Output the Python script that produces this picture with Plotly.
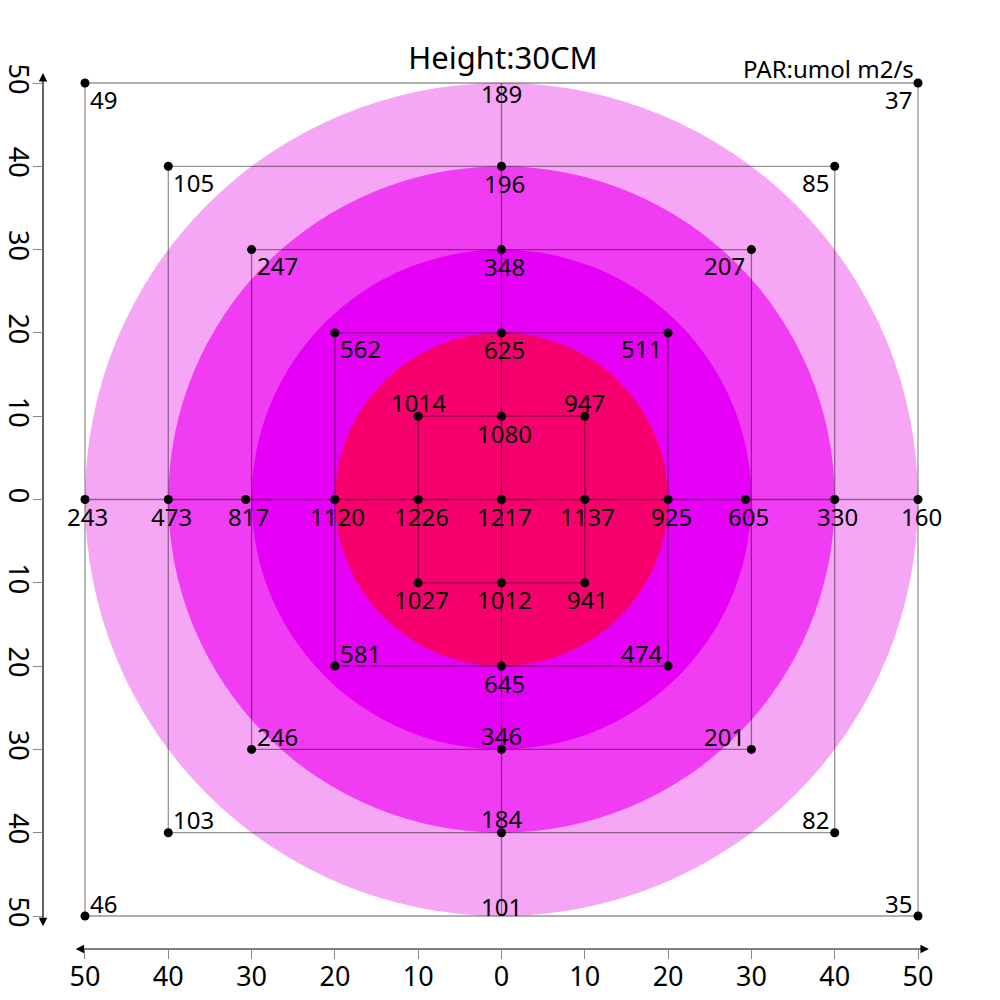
import plotly.graph_objects as go

# ---- data ----
square_half = [50, 40, 30, 20, 10]
ring_radius = [50, 40, 30, 20]
ring_color = ["#F5A6F5", "#F03CF3", "#E600F5", "#F5006C"]

point_x = [-50, 0, 50,
           -40, 0, 40,
           -30, 0, 30,
           -20, 0, 20,
           -10, 0, 10,
           -50, -40, -30.7, -20, -10, 0, 10, 20, 29.3, 40, 50,
           -10, 0, 10,
           -20, 0, 20,
           -30, 0, 30,
           -40, 0, 40,
           -50, 0, 50]
point_y = [50, 50, 50,
           40, 40, 40,
           30, 30, 30,
           20, 20, 20,
           10, 10, 10,
           0, 0, 0, 0, 0, 0, 0, 0, 0, 0, 0,
           -10, -10, -10,
           -20, -20, -20,
           -30, -30, -30,
           -40, -40, -40,
           -50, -50, -50]
par_values = [49, 189, 37,
              105, 196, 85,
              247, 348, 207,
              562, 625, 511,
              1014, 1080, 947,
              243, 473, 817, 1120, 1226, 1217, 1137, 925, 605, 330, 160,
              1027, 1012, 941,
              581, 645, 474,
              246, 346, 201,
              103, 184, 82,
              46, 101, 35]
has_dot = [True, False, True] + [True] * 35 + [True, False, True]
label_pos = (["bottom right", "bottom center", "bottom left"] * 4
             + ["top center", "bottom center", "top center"]
             + ["bottom center"] * 11
             + ["bottom center"] * 3
             + ["top right", "bottom center", "top left"]
             + ["top right", "top center", "top left"] * 3)

tick_vals = [-50, -40, -30, -20, -10, 0, 10, 20, 30, 40, 50]
tick_text = ["50", "40", "30", "20", "10", "0", "10", "20", "30", "40", "50"]

FONT = "Noto Sans"
LINE = "rgba(0,0,0,0.42)"

# label placement styles: (xanchor, xshift, yshift)
POS_STYLE = {
    "bottom right": ("left", 3, -16),
    "bottom left": ("right", -4, -16),
    "bottom center": ("center", 3, -17),
    "top center": ("center", 0, 14),
    "top right": ("left", 3, 13),
    "top left": ("right", -4, 13),
}

fig = go.Figure()

# rings
shapes = []
for r, c in zip(ring_radius, ring_color):
    shapes.append(dict(type="circle", xref="x", yref="y", x0=-r, x1=r, y0=-r, y1=r,
                       fillcolor=c, line=dict(width=0), layer="below"))

# squares
for s in square_half:
    fig.add_trace(go.Scatter(x=[-s, s, s, -s, -s], y=[s, s, -s, -s, s], mode="lines",
                             line=dict(color=LINE, width=1.3), hoverinfo="skip", showlegend=False))
# cross lines
big = square_half[0]
fig.add_trace(go.Scatter(x=[-big, big], y=[0, 0], mode="lines",
                         line=dict(color=LINE, width=1.3), hoverinfo="skip", showlegend=False))
fig.add_trace(go.Scatter(x=[0, 0], y=[-big, big], mode="lines",
                         line=dict(color=LINE, width=1.3), hoverinfo="skip", showlegend=False))

# points
fig.add_trace(go.Scatter(
    x=[x for x, d in zip(point_x, has_dot) if d],
    y=[y for y, d in zip(point_y, has_dot) if d],
    mode="markers",
    marker=dict(color="black", size=9, opacity=1, line=dict(width=0)),
    hoverinfo="skip", showlegend=False, cliponaxis=False))

ann = []
# value labels
for x, y, v, p, d in zip(point_x, point_y, par_values, label_pos, has_dot):
    xa, xs, ys = POS_STYLE[p]
    if not d:
        ys = -10 if ys < 0 else 10
        xs = 0
    ann.append(dict(x=x, y=y, xref="x", yref="y", text=str(v), showarrow=False,
                    xanchor=xa, yanchor="middle", xshift=xs, yshift=ys,
                    font=dict(family=FONT, size=24, color="black")))

# axis arrows
ann.append(dict(x=51.3, y=-53.96, ax=-51.3, ay=-53.96, xref="x", yref="y", axref="x", ayref="y",
                showarrow=True, arrowhead=2, arrowside="end+start", arrowsize=1.4,
                arrowwidth=1.2, arrowcolor="black", text=""))
ann.append(dict(x=-55.04, y=51.2, ax=-55.04, ay=-51.4, xref="x", yref="y", axref="x", ayref="y",
                showarrow=True, arrowhead=2, arrowside="end+start", arrowsize=1.4,
                arrowwidth=1.2, arrowcolor="black", text=""))
ann.append(dict(x=50, y=50, xref="x", yref="y", text="PAR:umol m2/s", showarrow=False,
                xanchor="right", yanchor="bottom", xshift=-2, yshift=-4,
                font=dict(family=FONT, size=24, color="black")))

fig.update_layout(
    template="none",
    width=1000, height=1000,
    margin=dict(l=35, r=68, t=62, b=59, autoexpand=False),
    paper_bgcolor="white", plot_bgcolor="white",
    shapes=shapes, annotations=ann,
    title=dict(text="Height:30CM", x=0.495, xref="container", xanchor="center",
               y=0.95, yref="container", yanchor="middle",
               font=dict(family=FONT, size=31, color="black")),
    xaxis=dict(range=[-55.04, 52.64], tickvals=tick_vals, ticktext=tick_text,
               showgrid=False, zeroline=False, showline=False, automargin=False,
               ticks="outside", ticklen=9, tickcolor="#888", tickwidth=1.2,
               ticklabelstandoff=-5,
               tickfont=dict(family=FONT, size=27, color="black")),
    yaxis=dict(range=[-53.96, 51.56], tickvals=tick_vals, ticktext=tick_text,
               showgrid=False, zeroline=False, showline=False, automargin=False,
               ticks="outside", ticklen=9, tickcolor="#888", tickwidth=1.2, tickangle=90,
               ticklabelstandoff=-8,
               tickfont=dict(family=FONT, size=27, color="black")),
)

fig.write_html("out.html")
